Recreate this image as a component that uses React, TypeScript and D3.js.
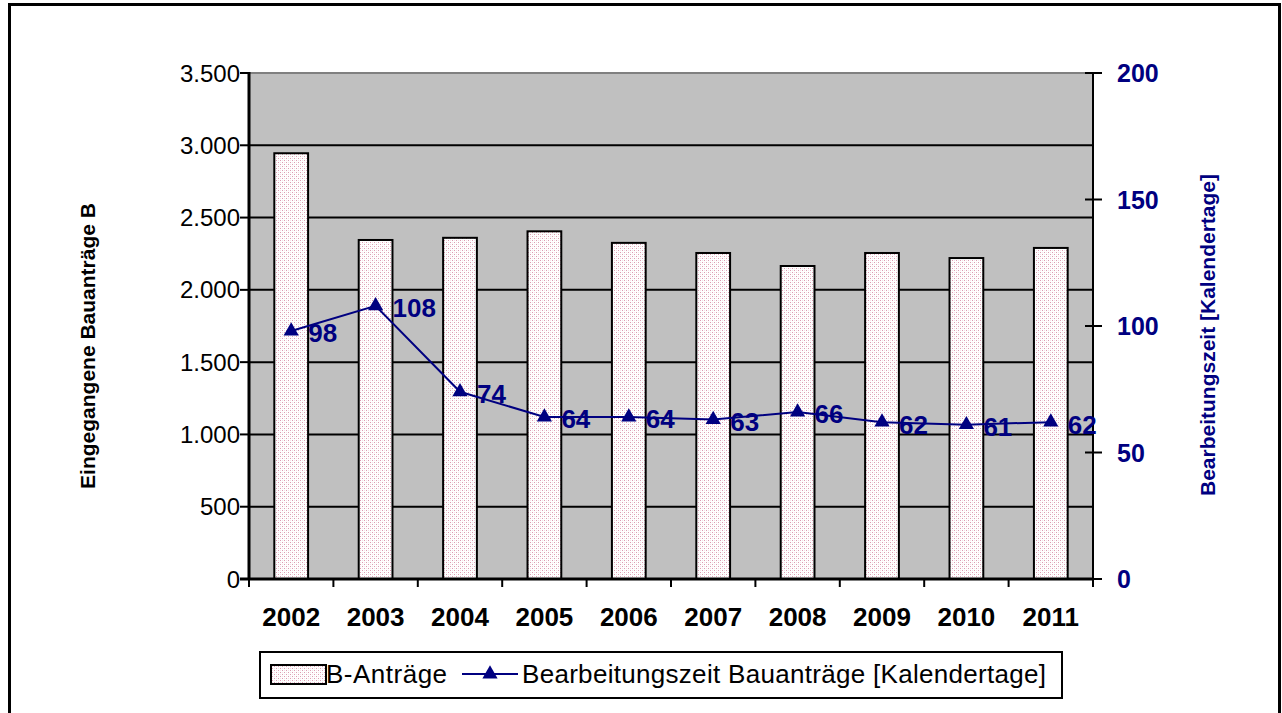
import React from "react";
import * as d3 from "d3";

const years = ["2002", "2003", "2004", "2005", "2006", "2007", "2008", "2009", "2010", "2011"];
const antraege = [2945, 2345, 2360, 2405, 2325, 2255, 2165, 2255, 2220, 2290];
const bearbeitungszeit = [98, 108, 74, 64, 64, 63, 66, 62, 61, 62];
const leftTicks = [0, 500, 1000, 1500, 2000, 2500, 3000, 3500];
const rightTicks = [0, 50, 100, 150, 200];

const W = 1282;
const H = 713;
const plot = { left: 249, right: 1093, top: 73, bottom: 579 };
const NAVY = "#000080";
const FONT = "'Liberation Sans', Arial, sans-serif";

const fmt = (v: number) => d3.format(",")(v).replace(/,/g, ".");

export default function App() {
  const x = d3.scaleBand<string>().domain(years).range([plot.left, plot.right]).paddingInner(0.6).paddingOuter(0.3);
  const xCat = d3.scaleBand<string>().domain(years).range([plot.left, plot.right]);
  const yL = d3.scaleLinear().domain([0, 3500]).range([plot.bottom, plot.top]);
  const yR = d3.scaleLinear().domain([0, 200]).range([plot.bottom, plot.top]);

  const linePath = d3
    .line<number>()
    .x((_, i) => xCat(years[i])! + xCat.bandwidth() / 2)
    .y((d) => yR(d))(bearbeitungszeit);

  const tri = d3.symbol().type(d3.symbolTriangle).size(100)();

  return (
    <svg width={W} height={H} style={{ position: "absolute", left: 0, top: 0 }} fontFamily={FONT}>
      <defs>
        <pattern id="dots" width="4" height="4" patternUnits="userSpaceOnUse">
          <rect width="4" height="4" fill="#ffffff" />
          <rect x="0" y="0" width="1" height="1" fill="#dc9cb2" />
          <rect x="2" y="2" width="1" height="1" fill="#dc9cb2" />
          <rect x="2" y="0" width="1" height="1" fill="#f4e2e8" />
          <rect x="0" y="2" width="1" height="1" fill="#f4e2e8" />
        </pattern>
      </defs>
      <rect x={0} y={0} width={W} height={H} fill="#fff" />
      {/* outer frame */}
      <rect x={9.5} y={4.5} width={1270} height={H + 10} fill="none" stroke="#000" strokeWidth={3} />

      {/* plot background */}
      <rect x={plot.left} y={plot.top} width={plot.right - plot.left} height={plot.bottom - plot.top} fill="#c0c0c0" />
      <line x1={plot.left} x2={plot.right} y1={plot.top} y2={plot.top} stroke="#808080" strokeWidth={2} />
      {leftTicks.slice(1, -1).map((t) => (
        <line key={t} x1={plot.left} x2={plot.right} y1={yL(t)} y2={yL(t)} stroke="#000" strokeWidth={2} />
      ))}

      {/* bars */}
      {antraege.map((v, i) => (
        <rect
          key={years[i]}
          x={x(years[i])}
          y={yL(v)}
          width={x.bandwidth()}
          height={yL(0) - yL(v)}
          fill="url(#dots)"
          stroke="#000"
          strokeWidth={2}
        />
      ))}

      {/* left axis */}
      <line x1={plot.left} x2={plot.left} y1={plot.top - 1} y2={plot.bottom + 1} stroke="#000" strokeWidth={3} />
      {leftTicks.map((t) => (
        <g key={t}>
          <line x1={plot.left - 9} x2={plot.left} y1={yL(t)} y2={yL(t)} stroke="#000" strokeWidth={2} />
          <text x={plot.left - 9} y={yL(t)} dy="0.36em" textAnchor="end" fontSize={24} fill="#000">
            {fmt(t)}
          </text>
        </g>
      ))}

      {/* right axis */}
      <line x1={plot.right} x2={plot.right} y1={plot.top - 1} y2={plot.bottom + 1} stroke="#000" strokeWidth={2} />
      {rightTicks.map((t) => (
        <g key={t}>
          <line x1={plot.right - 8} x2={plot.right + 9} y1={yR(t)} y2={yR(t)} stroke="#000" strokeWidth={2} />
          <text x={plot.right + 24} y={yR(t)} dy="0.36em" textAnchor="start" fontSize={25} fontWeight="bold" fill={NAVY}>
            {t}
          </text>
        </g>
      ))}

      {/* x axis */}
      <line x1={plot.left - 9} x2={plot.right} y1={plot.bottom} y2={plot.bottom} stroke="#000" strokeWidth={3} />
      {years.map((yr, i) => (
        <g key={yr}>
          <line x1={xCat(yr)!} x2={xCat(yr)!} y1={plot.bottom} y2={plot.bottom + 8} stroke="#000" strokeWidth={2} />
          {i === years.length - 1 && (
            <line x1={plot.right} x2={plot.right} y1={plot.bottom} y2={plot.bottom + 8} stroke="#000" strokeWidth={2} />
          )}
          <text x={xCat(yr)! + xCat.bandwidth() / 2} y={617} dy="0.36em" textAnchor="middle" fontSize={26} fontWeight="bold" fill="#000">
            {yr}
          </text>
        </g>
      ))}

      {/* line series */}
      <path d={linePath!} fill="none" stroke={NAVY} strokeWidth={2} />
      {bearbeitungszeit.map((v, i) => {
        const cx = xCat(years[i])! + xCat.bandwidth() / 2;
        return (
          <g key={years[i]}>
            <path d={tri!} transform={`translate(${cx},${yR(v)})`} fill={NAVY} />
            <text x={cx + 17} y={yR(v) + 2} dy="0.36em" fontSize={26} fontWeight="bold" fill={NAVY}>
              {v}
            </text>
          </g>
        );
      })}

      {/* axis titles */}
      <text transform="translate(87,346) rotate(-90)" dy="0.36em" textAnchor="middle" fontSize={21} fontWeight="bold" fill="#000">
        Eingegangene Bauanträge B
      </text>
      <text transform="translate(1207,335) rotate(-90)" dy="0.36em" textAnchor="middle" fontSize={21} fontWeight="bold" fill={NAVY}>
        Bearbeitungszeit [Kalendertage]
      </text>

      {/* legend */}
      <rect x={260} y={652} width={802} height={46} fill="#fff" stroke="#000" strokeWidth={2} />
      <rect x={271} y={665} width={55} height={19} fill="url(#dots)" stroke="#000" strokeWidth={2} />
      <text x={326} y={674} dy="0.36em" fontSize={26} letterSpacing={0.5} fill="#000">B-Anträge</text>
      <line x1={462} x2={518} y1={674} y2={674} stroke={NAVY} strokeWidth={2} />
      <path d={tri!} transform="translate(490,674)" fill={NAVY} />
      <text x={522} y={674} dy="0.36em" fontSize={26} letterSpacing={0.3} fill="#000">Bearbeitungszeit Bauanträge [Kalendertage]</text>
    </svg>
  );
}
